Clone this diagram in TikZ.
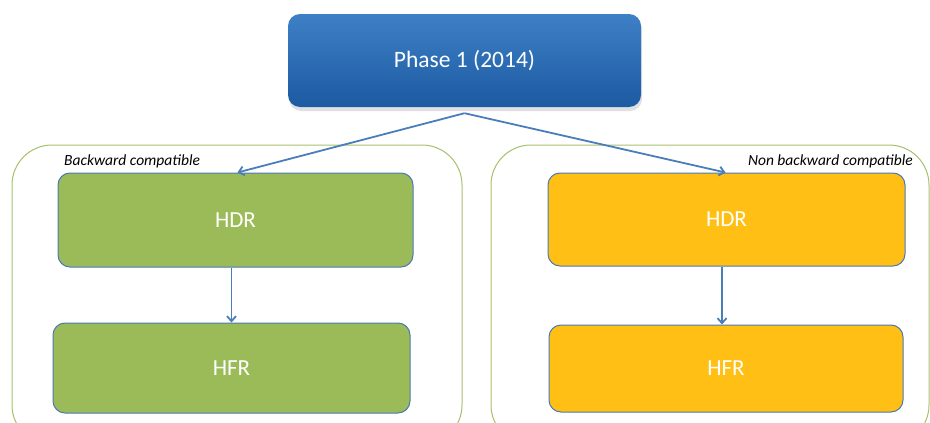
\documentclass[tikz,border=0pt]{standalone}
\usepackage{fontspec}
\setmainfont{Carlito}
\usetikzlibrary{arrows.meta}
\definecolor{bluetop}{RGB}{62,128,198}
\definecolor{bluebot}{RGB}{28,90,162}
\definecolor{greenf}{RGB}{155,187,89}
\definecolor{orangef}{RGB}{255,191,20}
\definecolor{edgeblue}{RGB}{74,122,181}
\definecolor{contedge}{RGB}{168,192,106}
\definecolor{arrowc}{RGB}{74,126,187}
\tikzset{
  x=1pt,y=-1pt,
  container/.style={draw=contedge,line width=1pt,rounded corners=40pt},
  phasebox/.style={rectangle,rounded corners=12pt,top color=bluetop,bottom color=bluebot,
     draw=none,text=white,font=\fontsize{23.5}{28}\selectfont,minimum width=353pt,minimum height=93pt},
  greenbox/.style={rectangle,rounded corners=12pt,fill=greenf,draw=edgeblue,line width=1pt,
     text=white,font=\fontsize{23}{27}\selectfont,inner sep=0pt},
  orangebox/.style={greenbox,fill=orangef},
  tag/.style={font=\itshape\fontsize{15.5}{18}\selectfont,inner sep=0pt},
  conn/.style={draw=arrowc,line width=1.8pt,-{Straight Barb[length=5pt,width=9pt]}}
}
\begin{document}
\begin{tikzpicture}
\useasboundingbox (0,0) rectangle (930,423);
\draw[container] (12,145) rectangle (462,445);
\draw[container] (491,145) rectangle (929,445);
\fill[black!12,rounded corners=12pt] (289,17) rectangle (642,111);
\node[phasebox] (phase) at (464.5,60.5) {Phase 1 (2014)};
\node[greenbox,minimum width=355pt,minimum height=94pt] (lhdr) at (235.5,220) {HDR};
\node[orangebox,minimum width=357pt,minimum height=93pt] (rhdr) at (726.5,219.5) {HDR};
\node[greenbox,minimum width=357pt,minimum height=90pt] (lhfr) at (231.5,368) {HFR};
\node[orangebox,minimum width=354pt,minimum height=87pt] (rhfr) at (726,368.5) {HFR};
\node[tag,anchor=west] (ltag) at (64,161) {Backward compatible};
\node[tag,anchor=east] (rtag) at (913,161) {Non backward compatible};
\coordinate (split) at ([yshift=-6pt]phase.south);
\draw[conn] (split) -- ([xshift=2pt]lhdr.north);
\draw[conn] (split) -- ([xshift=-1pt]rhdr.north);
\draw[conn] (lhfr.north |- lhdr.south) -- (lhfr.north);
\draw[conn] ([xshift=-4pt]rhfr.north |- rhdr.south) -- ([xshift=-4pt]rhfr.north);
\end{tikzpicture}
\end{document}
